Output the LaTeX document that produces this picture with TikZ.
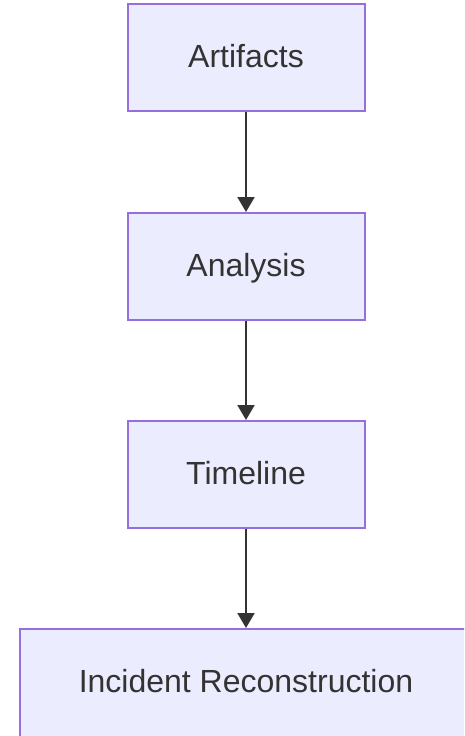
\documentclass[tikz,border=0pt]{standalone}
\usepackage{fontspec}
\setmainfont{Liberation Sans}
\usetikzlibrary{arrows.meta}
\definecolor{boxfill}{HTML}{ECECFF}
\definecolor{boxline}{HTML}{9370DB}
\definecolor{ink}{HTML}{333333}
\tikzset{
  stepbox/.style={draw=boxline, fill=boxfill, line width=2pt, text=ink,
    minimum width=237pt, minimum height=107pt, inner sep=0pt,
    text height=25pt, text depth=5pt,
    font=\fontsize{32}{38}\selectfont},
  flow/.style={draw=ink, line width=2pt,
    -{Triangle[length=15pt,width=17pt]}, shorten >=0pt}
}
\begin{document}
\begin{tikzpicture}[x=1pt,y=-1pt]
  \useasboundingbox (0,0) rectangle (464,736);
  \clip (0,0) rectangle (464,736);
  \node[stepbox] (art) at (246,57.5) {Artifacts};
  \node[stepbox] (ana) at (246,266.5) {Analysis};
  \node[stepbox] (tim) at (246,474.5) {Timeline};
  % the last box runs past the lower and right edges of the page
  \node[stepbox, minimum width=452pt, minimum height=117pt,
        text depth=15pt] (inc) at (246,687.5) {Incident Reconstruction};
  \draw[flow] (art.south) -- (ana.north);
  \draw[flow] (ana.south) -- (tim.north);
  \draw[flow] (tim.south) -- (inc.north);
\end{tikzpicture}
\end{document}
